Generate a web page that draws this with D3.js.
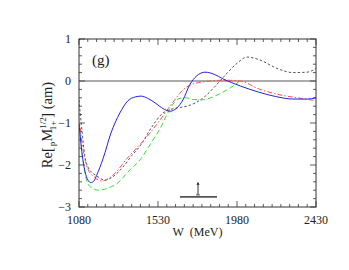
<!DOCTYPE html>
<html>
<head>
<meta charset="utf-8">
<script src="https://cdn.jsdelivr.net/npm/d3@7"></script>
<style>
  body { margin: 0; background: #fff; }
  text { font-family: "Liberation Serif", "DejaVu Serif", serif; fill: #222; }
</style>
</head>
<body>
<script>
// W (MeV) / value pairs
const blueW = [1080,1098,1114,1131,1148,1165,1180,1217,1262,1313,1359,1400,1433,1470,1513,1560,1598,1638,1672,1712,1750,1798,1850,1900,1950,2000,2100,2200,2300,2380,2430];
const blueV = [-1.0,-1.75,-2.15,-2.36,-2.42,-2.38,-2.25,-1.85,-1.24,-0.76,-0.47,-0.38,-0.36,-0.41,-0.52,-0.66,-0.72,-0.64,-0.45,-0.08,0.12,0.21,0.16,0.05,-0.04,-0.12,-0.26,-0.37,-0.43,-0.43,-0.40];

const redW = [1080,1100,1131,1171,1210,1256,1302,1342,1399,1484,1541,1598,1638,1670,1712,1770,1830,1900,1997,2111,2225,2339,2430];
const redV = [-0.86,-1.55,-2.1,-2.3,-2.38,-2.3,-2.12,-1.9,-1.64,-1.24,-0.93,-0.6,-0.38,-0.22,-0.1,-0.03,0.0,0.02,0.0,-0.2,-0.33,-0.41,-0.47];

const blackW = [1080,1095,1114,1131,1188,1228,1285,1330,1380,1427,1502,1553,1600,1640,1695,1752,1800,1850,1900,1980,2037,2111,2208,2299,2379,2430];
const blackV = [-0.45,-1.1,-1.8,-2.05,-2.28,-2.36,-2.24,-2.05,-1.78,-1.55,-1.05,-0.78,-0.68,-0.64,-0.6,-0.5,-0.36,-0.15,0.08,0.42,0.57,0.5,0.3,0.2,0.21,0.3];

const greenW = [1080,1100,1131,1160,1188,1245,1319,1353,1427,1502,1540,1581,1615,1650,1690,1730,1780,1830,1883,1940,1990];
const greenV = [-0.95,-1.8,-2.45,-2.56,-2.6,-2.55,-2.36,-2.19,-1.88,-1.40,-1.15,-0.8,-0.55,-0.42,-0.40,-0.44,-0.45,-0.40,-0.3,-0.17,-0.02];

// resonance marker: mass, width, height
const resW = [1655, 1758, 1866];
const resV = [-2.76, -2.4];

const xTicks = [1080, 1530, 1980, 2430];
const yTicks = [-3, -2, -1, 0, 1];

const width = 349, height = 270;
const margin = {top: 39, right: 33, bottom: 63, left: 79};

const svg = d3.select('body').append('svg')
    .attr('width', width)
    .attr('height', height);

const x = d3.scaleLinear()
    .domain([1080, 2430])
    .range([margin.left, width - margin.right]);

const y = d3.scaleLinear()
    .domain([-3, 1])
    .range([height - margin.bottom, margin.top]);

const frame = '#333';

// ticks on all four sides, pointing inward
const minorX = d3.range(1080, 2431, 50);
const minorY = d3.range(-3, 1.001, 0.2);
const tickG = svg.append('g').attr('stroke', frame).attr('stroke-width', 0.8);

minorX.forEach(w => {
    const major = xTicks.includes(w);
    const len = major ? 6 : 3;
    tickG.append('line').attr('x1', x(w)).attr('x2', x(w))
        .attr('y1', y(-3)).attr('y2', y(-3) - len);
    tickG.append('line').attr('x1', x(w)).attr('x2', x(w))
        .attr('y1', y(1)).attr('y2', y(1) + len);
});
minorY.forEach(v => {
    const major = Math.abs(v - Math.round(v)) < 1e-6;
    const len = major ? 6 : 3;
    tickG.append('line').attr('y1', y(v)).attr('y2', y(v))
        .attr('x1', x(1080)).attr('x2', x(1080) + len);
    tickG.append('line').attr('y1', y(v)).attr('y2', y(v))
        .attr('x1', x(2430)).attr('x2', x(2430) - len);
});

// frame
svg.append('rect')
    .attr('x', x(1080)).attr('y', y(1))
    .attr('width', x(2430) - x(1080)).attr('height', y(-3) - y(1))
    .attr('fill', 'none').attr('stroke', frame).attr('stroke-width', 1);

// zero line
svg.append('line')
    .attr('x1', x(1080)).attr('x2', x(2430))
    .attr('y1', y(0)).attr('y2', y(0))
    .attr('stroke', '#444').attr('stroke-width', 0.9);

// tick labels
svg.append('g').selectAll('text')
    .data(xTicks)
    .join('text')
    .attr('x', d => x(d))
    .attr('y', y(-3) + 17)
    .attr('text-anchor', 'middle')
    .attr('font-size', 12)
    .text(d => d);

svg.append('g').selectAll('text')
    .data(yTicks)
    .join('text')
    .attr('x', x(1080) - 8)
    .attr('y', d => y(d) + 4)
    .attr('text-anchor', 'end')
    .attr('font-size', 12)
    .text(d => d < 0 ? '\u2212' + Math.abs(d) : d);

// axis titles
svg.append('text')
    .attr('x', x(1755))
    .attr('y', y(-3) + 29)
    .attr('text-anchor', 'middle')
    .attr('font-size', 12)
    .style('white-space', 'pre')
    .text('W  (MeV)');

const yl = svg.append('text')
    .attr('transform', `translate(52,${(y(1) + y(-3)) / 2 + 2}) rotate(-90)`)
    .attr('text-anchor', 'middle')
    .attr('font-size', 14.5);
yl.append('tspan').text('Re[');
yl.append('tspan').attr('font-size', 9).attr('dy', 3).attr('dx', 1).text('p');
yl.append('tspan').attr('dy', -3).text('M');
yl.append('tspan').attr('font-size', 9).attr('dy', -6).text('1/2');
yl.append('tspan').attr('font-size', 9).attr('dx', -13).attr('dy', 10).text('1+');
yl.append('tspan').attr('dy', -4).attr('dx', 3).text(']');
yl.append('tspan').text(' (am)');

// panel label
svg.append('text')
    .attr('x', 92)
    .attr('y', 65)
    .attr('font-size', 15)
    .text('(g)');

// curves
const line = d3.line()
    .x(d => x(d[0]))
    .y(d => y(d[1]))
    .curve(d3.curveMonotoneX);

const series = [
    {w: blackW, v: blackV, color: '#444', dash: '2.5,2', width: 0.9},
    {w: greenW, v: greenV, color: '#33e033', dash: '5,3', width: 1},
    {w: redW, v: redV, color: '#ff5050', dash: '5,2,1.5,2', width: 1},
    {w: blueW, v: blueV, color: '#2222e0', dash: null, width: 1}
];

svg.append('clipPath').attr('id', 'clip')
    .append('rect')
    .attr('x', x(1080)).attr('y', y(1))
    .attr('width', x(2430) - x(1080)).attr('height', y(-3) - y(1));

svg.append('g').attr('clip-path', 'url(#clip)')
    .selectAll('path')
    .data(series)
    .join('path')
    .attr('d', s => line(s.w.map((w, i) => [w, s.v[i]])))
    .attr('fill', 'none')
    .attr('stroke', s => s.color)
    .attr('stroke-width', s => s.width)
    .attr('stroke-dasharray', s => s.dash);

// resonance marker
svg.append('line')
    .attr('x1', x(resW[0])).attr('x2', x(resW[2]))
    .attr('y1', y(resV[0])).attr('y2', y(resV[0]))
    .attr('stroke', '#555').attr('stroke-width', 1.8);
svg.append('line')
    .attr('x1', x(resW[1]) - 2).attr('x2', x(resW[1]) + 2)
    .attr('y1', y(resV[0]) - 2).attr('y2', y(resV[0]) - 2)
    .attr('stroke', '#555').attr('stroke-width', 1);
svg.append('line')
    .attr('x1', x(resW[1])).attr('x2', x(resW[1]))
    .attr('y1', y(resV[0]) - 2).attr('y2', y(resV[1]) + 2)
    .attr('stroke', '#333').attr('stroke-width', 1);
svg.append('path')
    .attr('d', d3.line()([
        [x(resW[1]) - 1.5, y(resV[1]) + 3],
        [x(resW[1]), y(resV[1])],
        [x(resW[1]) + 1.5, y(resV[1]) + 3]
    ]) + 'Z')
    .attr('fill', '#222');
</script>
</body>
</html>
